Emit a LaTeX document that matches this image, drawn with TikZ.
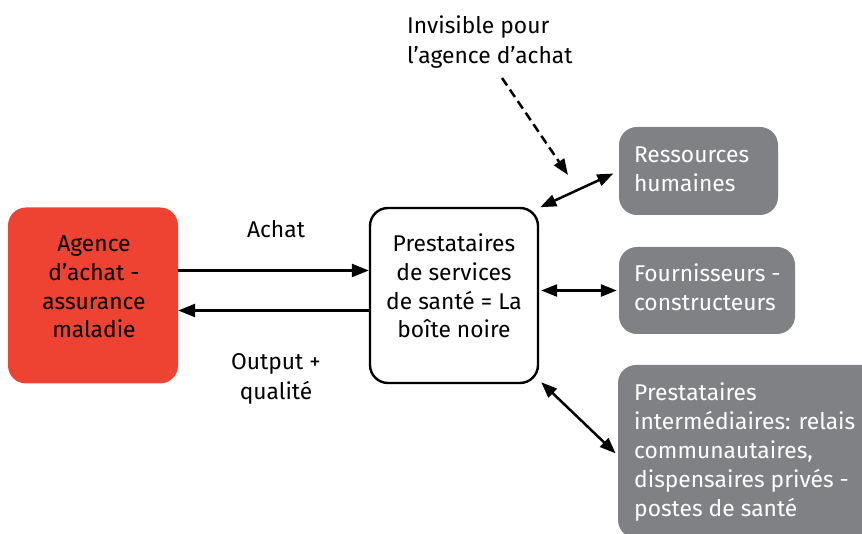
\documentclass[tikz,border=0pt]{standalone}
\usepackage{fontspec}
\setmainfont{Fira Sans}
\usetikzlibrary{arrows.meta}
\definecolor{agencered}{HTML}{EE4232}
\definecolor{boxgray}{HTML}{808184}
\begin{document}
\begin{tikzpicture}[x=1pt,y=-1pt,
  every node/.style={font=\fontsize{22.8}{28.8}\selectfont},
  redbox/.style={draw=none,fill=agencered,rounded corners=18pt,inner sep=0pt},
  blackbox/.style={draw=black,line width=2.4pt,fill=white,rounded corners=18pt,inner sep=0pt},
  graybox/.style={draw=none,fill=boxgray,rounded corners=18pt,inner sep=0pt},
  boxtext/.style={inner sep=0pt,align=center,text=black},
  graytext/.style={inner sep=0pt,align=left,text=white,anchor=west},
  link/.style={line width=2.5pt,-{Triangle[length=17pt,width=13pt]}},
  twoway/.style={line width=2.5pt,{Triangle[length=16pt,width=12pt]}-{Triangle[length=16pt,width=12pt]}},
  hidden/.style={line width=2.5pt,dash pattern=on 9pt off 5pt,-{Triangle[length=16pt,width=12pt]}}]
\useasboundingbox (0,0) rectangle (862,534);
\clip (0,0) rectangle (862,534);

% boxes
\node[redbox,minimum width=170pt,minimum height=176pt] (agence) at (93,295.5) {};
\node[blackbox,minimum width=168pt,minimum height=175pt] (centre) at (454,295.5) {};
\node[graybox,minimum width=159pt,minimum height=88pt] (rh) at (698.5,171) {};
\node[graybox,minimum width=176pt,minimum height=87pt] (four) at (707,290.5) {};
\node[graybox,minimum width=270pt,minimum height=173pt] (inter) at (753,451.5) {};

% box texts
\node[boxtext] (agenceT) at (94,287) {Agence\\d’achat -\\assurance\\maladie};
\node[boxtext] (centreT) at (454,286) {Prestataires\\de services\\de santé = La\\boîte noire};
\node[graytext] (rhT) at ([xshift=15pt,yshift=2pt]rh.west) {Ressources\\humaines};
\node[graytext] (fourT) at ([xshift=15pt,yshift=3pt]four.west) {Fournisseurs -\\constructeurs};
\node[graytext] (interT) at (634,452) {Prestataires\\intermédiaires: relais\\communautaires,\\dispensaires privés -\\postes de santé};

% free labels
\node[inner sep=0pt] (achatL) at (276,229) {Achat};
\node[inner sep=0pt,align=center,font=\fontsize{22.8}{30}\selectfont] (outputL) at (276,379) {Output +\\qualité};
\node[inner sep=0pt,align=left,anchor=north west,font=\fontsize{22.8}{30}\selectfont] (invisL) at (407,16) {Invisible pour\\l’agence d’achat};

% connectors
\draw[link] ([yshift=25pt]agence.east) -- ([yshift=25pt]centre.west);
\draw[link] ([yshift=-15pt]centre.west) -- ([yshift=-15pt]agence.east);
\draw[twoway,shorten <=-1pt,shorten >=6pt] ([xshift=2pt]centre.north east) -- (rh.west);
\draw[twoway] ([xshift=2pt]centre.east |- four.west) -- ([xshift=-2pt]four.west);
\draw[twoway,shorten >=3pt] ([xshift=2pt,yshift=2pt]centre.south east) -- ([yshift=-4pt]inter.west);
\coordinate (dashA) at (502,78);
\coordinate (dashB) at (568,175);
\draw[hidden] (dashA) -- (dashB);
\end{tikzpicture}
\end{document}
